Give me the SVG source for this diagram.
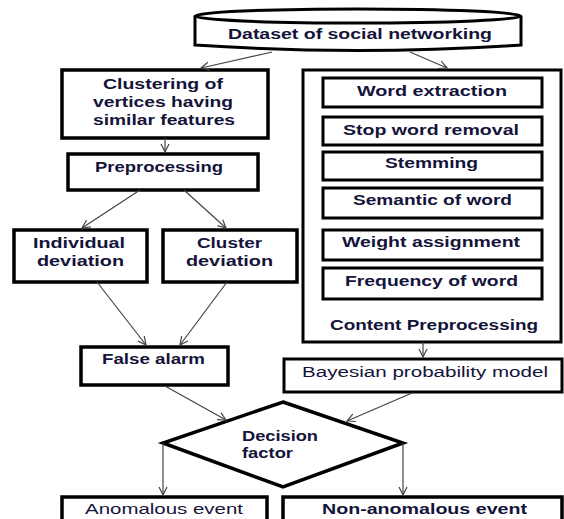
<svg xmlns="http://www.w3.org/2000/svg" width="564" height="519" viewBox="0 0 564 519">
<defs>
<marker id="ah" markerUnits="userSpaceOnUse" markerWidth="12" markerHeight="12" refX="9" refY="5" orient="auto">
<path d="M1,1 L9,5 L1,9" fill="none" stroke="#444" stroke-width="1.2"/>
</marker>
<style>
.box{fill:#fff;stroke:#000;stroke-width:3.5}
.thin{fill:#fff;stroke:#000;stroke-width:3}
.t{font-family:"Liberation Sans",Arial,sans-serif;font-size:14px;font-weight:bold;fill:#14143a}
.n{font-family:"Liberation Sans",Arial,sans-serif;font-size:14px;fill:#14143a}
.c{stroke:#444;stroke-width:1.2;fill:none;marker-end:url(#ah)}
</style>
</defs>
<rect width="564" height="519" fill="#fff"/>

<g id="dataset">
<path d="M195,16 L195,45 Q358,56 521,45 L521,16" class="thin"/>
<ellipse cx="358" cy="16" rx="163" ry="7" class="thin"/>
<text class="t" x="228" y="39" textLength="264" lengthAdjust="spacingAndGlyphs">Dataset of social networking</text>
</g>

<g id="clustering">
<rect x="62" y="70" width="206" height="68" class="box"/>
<text class="t" x="103" y="89" textLength="120" lengthAdjust="spacingAndGlyphs">Clustering of</text>
<text class="t" x="93" y="107" textLength="140" lengthAdjust="spacingAndGlyphs">vertices having</text>
<text class="t" x="93" y="125" textLength="142" lengthAdjust="spacingAndGlyphs">similar features</text>
</g>

<g id="preprocessing">
<rect x="68" y="154" width="190" height="36" class="box"/>
<text class="t" x="95" y="172" textLength="128" lengthAdjust="spacingAndGlyphs">Preprocessing</text>
</g>

<g id="individual">
<rect x="14" y="230" width="133" height="52" class="box"/>
<text class="t" x="33" y="248" textLength="92" lengthAdjust="spacingAndGlyphs">Individual</text>
<text class="t" x="37" y="266" textLength="87" lengthAdjust="spacingAndGlyphs">deviation</text>
</g>

<g id="cluster">
<rect x="163" y="230" width="134" height="52" class="box"/>
<text class="t" x="197" y="248" textLength="65" lengthAdjust="spacingAndGlyphs">Cluster</text>
<text class="t" x="186" y="266" textLength="87" lengthAdjust="spacingAndGlyphs">deviation</text>
</g>

<g id="falsealarm">
<rect x="81" y="347" width="147" height="38" class="box"/>
<text class="t" x="102" y="364" textLength="103" lengthAdjust="spacingAndGlyphs">False alarm</text>
</g>

<g id="content">
<rect x="303" y="70" width="258" height="272" class="thin"/>
<text class="t" x="330" y="330" textLength="208" lengthAdjust="spacingAndGlyphs">Content Preprocessing</text>
</g>

<g id="wordextraction">
<rect x="323" y="78" width="219" height="29" class="thin"/>
<text class="t" x="357" y="96" textLength="150" lengthAdjust="spacingAndGlyphs">Word extraction</text>
</g>
<g id="stopword">
<rect x="323" y="117" width="219" height="28" class="thin"/>
<text class="t" x="343" y="135" textLength="176" lengthAdjust="spacingAndGlyphs">Stop word removal</text>
</g>
<g id="stemming">
<rect x="323" y="152" width="219" height="28" class="thin"/>
<text class="t" x="385" y="168" textLength="93" lengthAdjust="spacingAndGlyphs">Stemming</text>
</g>
<g id="semantic">
<rect x="323" y="188" width="219" height="30" class="thin"/>
<text class="t" x="353" y="205" textLength="159" lengthAdjust="spacingAndGlyphs">Semantic of word</text>
</g>
<g id="weight">
<rect x="323" y="230" width="219" height="30" class="thin"/>
<text class="t" x="342" y="247" textLength="178" lengthAdjust="spacingAndGlyphs">Weight assignment</text>
</g>
<g id="frequency">
<rect x="323" y="268" width="219" height="31" class="thin"/>
<text class="t" x="345" y="286" textLength="173" lengthAdjust="spacingAndGlyphs">Frequency of word</text>
</g>

<g id="bayesian">
<rect x="284" y="359" width="278" height="33" class="thin"/>
<text class="n" x="302" y="377" textLength="246" lengthAdjust="spacingAndGlyphs">Bayesian probability model</text>
</g>

<g id="decision">
<polygon points="283,402 403,443 283,487 163,443" fill="#fff" stroke="#000" stroke-width="3.5" stroke-linejoin="miter"/>
<text class="t" x="242" y="441" textLength="76" lengthAdjust="spacingAndGlyphs">Decision</text>
<text class="t" x="242" y="458" textLength="51" lengthAdjust="spacingAndGlyphs">factor</text>
</g>

<g id="anomalous">
<rect x="62" y="497" width="205" height="40" class="box"/>
<text class="n" x="85" y="514" textLength="158" lengthAdjust="spacingAndGlyphs">Anomalous event</text>
</g>

<g id="nonanomalous">
<rect x="283" y="497" width="279" height="40" class="box"/>
<text class="t" x="322" y="514" textLength="205" lengthAdjust="spacingAndGlyphs">Non-anomalous event</text>
</g>

<g id="connectors">
<line x1="272" y1="52" x2="201" y2="68" class="c"/>
<line x1="410" y1="52" x2="447" y2="68" class="c"/>
<line x1="165" y1="138" x2="165" y2="152" class="c"/>
<line x1="140" y1="190" x2="82" y2="228" class="c"/>
<line x1="184" y1="190" x2="226" y2="228" class="c"/>
<line x1="97" y1="282" x2="146" y2="345" class="c"/>
<line x1="227" y1="282" x2="180" y2="345" class="c"/>
<line x1="423" y1="342" x2="423" y2="357" class="c"/>
<line x1="165" y1="386" x2="226" y2="420" class="c"/>
<line x1="412" y1="393" x2="347" y2="421" class="c"/>
<line x1="163" y1="443" x2="163" y2="495" class="c"/>
<line x1="403" y1="443" x2="403" y2="495" class="c"/>
</g>
</svg>
